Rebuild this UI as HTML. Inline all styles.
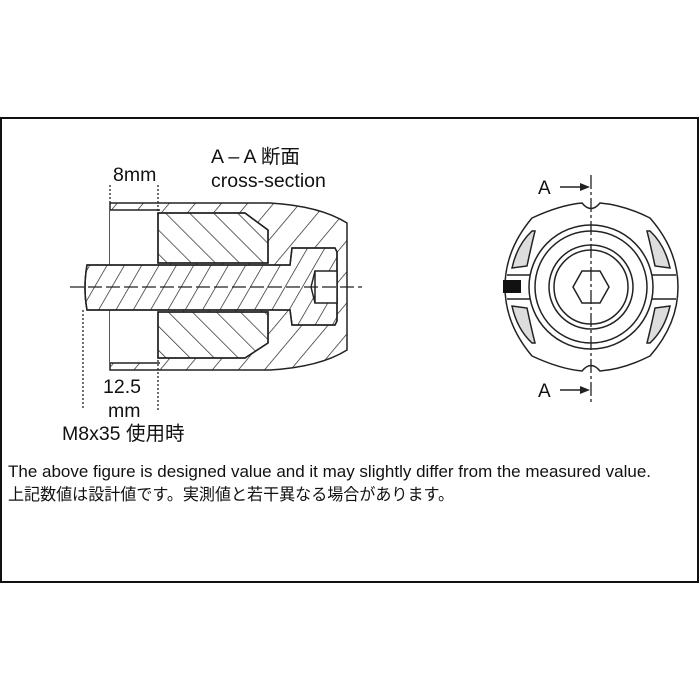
<!DOCTYPE html>
<html><head><meta charset="utf-8"><style>
body{margin:0;background:#fff;width:700px;height:700px;overflow:hidden}
svg{display:block}
text{font-family:"Liberation Sans","Noto Sans CJK JP",sans-serif;fill:#111}
</style></head><body>
<svg width="700" height="700" viewBox="0 0 700 700" xmlns="http://www.w3.org/2000/svg">
<defs>
<pattern id="h1" width="20" height="20" patternUnits="userSpaceOnUse" patternTransform="rotate(40)">
<line x1="0" y1="0" x2="0" y2="20" stroke="#222" stroke-width="1.4"/></pattern>
<pattern id="h2" width="17" height="17" patternUnits="userSpaceOnUse" patternTransform="rotate(-45)">
<line x1="0" y1="0" x2="0" y2="17" stroke="#222" stroke-width="1.4"/></pattern>
<pattern id="h3" width="15" height="15" patternUnits="userSpaceOnUse" patternTransform="rotate(30)">
<line x1="0" y1="0" x2="0" y2="15" stroke="#222" stroke-width="1.4"/></pattern>
</defs>
<rect x="1" y="118" width="697" height="464" fill="none" stroke="#111" stroke-width="2"/>

<g stroke="#222" stroke-width="1.5" fill="none">
<path d="M110 203 L270 203 Q320 206 347 223 L347 350 Q320 367 270 370 L110 370 Z" fill="url(#h1)"/>
<rect x="110" y="210" width="48" height="153" fill="#fff" stroke="none"/>
<line x1="110" y1="210" x2="160" y2="210"/><line x1="110" y1="363" x2="160" y2="363"/>
<path d="M158 213 L245 213 L268 230 L268 263 L158 263 Z" fill="#fff"/>
<path d="M158 213 L245 213 L268 230 L268 263 L158 263 Z" fill="url(#h2)"/>
<path d="M158 312 L268 312 L268 343 L245 358 L158 358 Z" fill="#fff"/>
<path d="M158 312 L268 312 L268 343 L245 358 L158 358 Z" fill="url(#h2)"/>
<path d="M87 265 L290 265 L292 248 L335 248 L337 252 L337 321 L335 325 L292 325 L290 310 L87 310 Q83 288 87 265 Z" fill="#fff"/>
<path d="M87 265 L290 265 L292 248 L335 248 L337 252 L337 321 L335 325 L292 325 L290 310 L87 310 Q83 288 87 265 Z" fill="url(#h3)"/>
<rect x="315" y="271" width="22" height="32" fill="#fff"/>
<line x1="315" y1="271" x2="311" y2="287"/><line x1="315" y1="303" x2="311" y2="287"/>
</g>
<line x1="70" y1="287" x2="362" y2="287" stroke="#222" stroke-width="1.2" stroke-dasharray="14,4"/>
<g stroke="#222" stroke-width="1.3" stroke-dasharray="2,2">
<line x1="110" y1="185" x2="110" y2="205"/>
<line x1="158" y1="185" x2="158" y2="215"/>
<line x1="158" y1="360" x2="158" y2="410"/>
<line x1="83" y1="310" x2="83" y2="410"/>
</g>
<g font-size="19.5">
<text x="113" y="181">8mm</text>
<text x="211" y="163">A – A 断面</text>
<text x="211" y="187">cross-section</text>
<text x="103" y="393">12.5</text>
<text x="108" y="417">mm</text>
<text x="62" y="440">M8x35 使用時</text>
</g>

<g stroke="#222" stroke-width="1.5" fill="none">
<path d="M532 218 Q560 205 582 203 Q591 214 600 203 Q624 205 650 218 Q678 250 678 287 Q678 324 650 356 Q624 369 600 371 Q591 360 582 371 Q560 369 532 356 Q505 324 505 287 Q505 250 532 218 Z" fill="#fff"/>
<circle cx="591" cy="287" r="62"/>
<circle cx="591" cy="287" r="56"/>
<circle cx="591" cy="287" r="42"/>
<circle cx="591" cy="287" r="37"/>
<polygon points="573,287 582,271 600,271 609,287 600,303 582,303"/>
<path d="M532 231 Q517 245 512 268 L527 266 Q531 247 535 231 Z" fill="#ddd"/>
<path d="M532 343 Q517 329 512 306 L527 308 Q531 327 535 343 Z" fill="#ddd"/>
<path d="M650 231 Q665 245 670 268 L655 266 Q651 247 647 231 Z" fill="#ddd"/>
<path d="M650 343 Q665 329 670 306 L655 308 Q651 327 647 343 Z" fill="#ddd"/>
<line x1="507" y1="275" x2="530" y2="275"/><line x1="507" y1="299" x2="530" y2="299"/>
<line x1="652" y1="275" x2="676" y2="275"/><line x1="652" y1="299" x2="676" y2="299"/>
</g>
<rect x="503" y="280" width="18" height="13" fill="#111"/>
<line x1="591" y1="175" x2="591" y2="405" stroke="#222" stroke-width="1.3" stroke-dasharray="14,3,3,3"/>
<g stroke="#222" stroke-width="1.5"><line x1="560" y1="187" x2="586" y2="187"/><line x1="560" y1="390" x2="586" y2="390"/></g>
<polygon points="590,187 580,183 580,191" fill="#222"/>
<polygon points="590,390 580,386 580,394" fill="#222"/>
<text x="538" y="194" font-size="19">A</text>
<text x="538" y="397" font-size="19">A</text>

<text x="8" y="477" font-size="17" textLength="643" lengthAdjust="spacingAndGlyphs">The above figure is designed value and it may slightly differ from the measured value.</text>
<text x="8" y="500" font-size="16.3" textLength="446" lengthAdjust="spacingAndGlyphs">上記数値は設計値です。実測値と若干異なる場合があります。</text>
</svg>
</body></html>
